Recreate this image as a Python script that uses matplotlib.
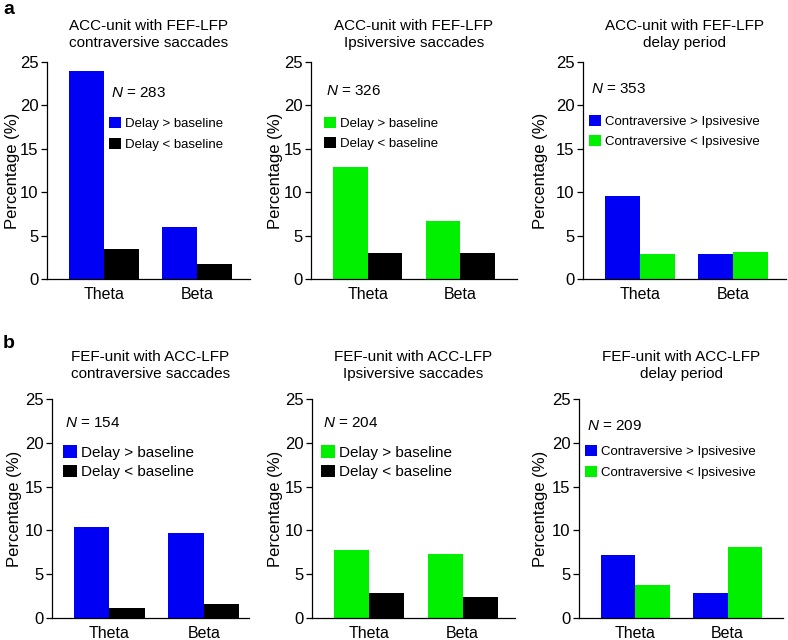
import matplotlib
matplotlib.use('Agg')
import matplotlib.pyplot as plt
import numpy as np

plt.rcParams['font.family'] = ['Liberation Sans', 'DejaVu Sans']
plt.rcParams['mathtext.fontset'] = 'custom'
plt.rcParams['mathtext.it'] = 'Liberation Sans:italic'
plt.rcParams['mathtext.rm'] = 'Liberation Sans'

# ---- data ----
bands = ['Theta', 'Beta']

a1_up = [24.0, 6.0]      # Delay > baseline
a1_down = [3.5, 1.7]     # Delay < baseline
a2_up = [12.9, 6.7]
a2_down = [3.05, 3.05]
a3_contra = [9.6, 2.85]  # Contraversive > Ipsivesive
a3_ipsi = [2.85, 3.15]   # Contraversive < Ipsivesive

b1_up = [10.4, 9.65]
b1_down = [1.15, 1.6]
b2_up = [7.75, 7.3]
b2_down = [2.85, 2.35]
b3_contra = [7.15, 2.8]
b3_ipsi = [3.75, 8.05]

n_values = [283, 326, 353, 154, 204, 209]

titles = ['ACC-unit with FEF-LFP\ncontraversive saccades',
          'ACC-unit with FEF-LFP\nIpsiversive saccades',
          'ACC-unit with FEF-LFP\ndelay period',
          'FEF-unit with ACC-LFP\ncontraversive saccades',
          'FEF-unit with ACC-LFP\nIpsiversive saccades',
          'FEF-unit with ACC-LFP\ndelay period']

lab_delay = ['Delay > baseline', 'Delay < baseline']
lab_dir = ['Contraversive > Ipsivesive', 'Contraversive < Ipsivesive']

BLUE = '#0000f5'
GREEN = '#00f000'
BLACK = '#000000'

W, H = 788, 640


def add_axes_px(fig, left, top, right, bottom):
    return fig.add_axes([left / W, 1 - bottom / H, (right - left) / W, (bottom - top) / H])


def draw_panel(ax, v1, v2, c1, c2, labels, title, n, xmax, title_pad,
               leg_fs, leg_y, leg_space, n_xy, ylab_off):
    x = np.arange(len(bands))
    w = 0.375
    b1 = ax.bar(x - w / 2, v1, w, color=c1, label=labels[0])
    b2 = ax.bar(x + w / 2, v2, w, color=c2, label=labels[1])

    ax.set_xlim(-0.61, xmax)
    ax.set_ylim(0, 25)
    ax.set_yticks([0, 5, 10, 15, 20, 25])
    ax.set_xticks(x)
    ax.set_xticklabels(bands)
    for s in ['top', 'right']:
        ax.spines[s].set_visible(False)
    for s in ['left', 'bottom']:
        ax.spines[s].set_linewidth(0.9)
    ax.tick_params(axis='y', direction='out', length=4, width=0.9, labelsize=12, pad=2)
    ax.tick_params(axis='x', length=0, labelsize=11.5, pad=6)

    ax.set_ylabel('Percentage (%)', fontsize=12)
    ax.yaxis.set_label_coords(ylab_off, 0.5)
    ax.set_title(title, fontsize=11, pad=title_pad, linespacing=1.3)

    ax.text(n_xy[0], n_xy[1], r'$N$ = %d' % n, transform=ax.transAxes,
            fontsize=11, va='center', ha='left')
    ax.legend(handles=[b1, b2], loc='upper left', bbox_to_anchor=(n_xy[0] - 0.01, leg_y),
              frameon=False, fontsize=leg_fs, handlelength=0.9, handleheight=0.9,
              handletextpad=0.3, labelspacing=leg_space, borderpad=0, borderaxespad=0)


fig = plt.figure(figsize=(7.88, 6.4), dpi=100)

# pixel rectangles (left, top, right, bottom) of each axes
ax_a1 = add_axes_px(fig, 47, 62, 250, 279)
ax_a2 = add_axes_px(fig, 311, 62, 517, 279)
ax_a3 = add_axes_px(fig, 583, 62, 786, 279)
ax_b1 = add_axes_px(fig, 52, 399, 249, 618)
ax_b2 = add_axes_px(fig, 312, 399, 515, 618)
ax_b3 = add_axes_px(fig, 579, 399, 783, 618)

draw_panel(ax_a1, a1_up, a1_down, BLUE, BLACK, lab_delay, titles[0], n_values[0], 1.57, 10.5,
           9.5, 0.745, 0.55, (0.316, 0.857), -0.135)
draw_panel(ax_a2, a2_up, a2_down, GREEN, BLACK, lab_delay, titles[1], n_values[1], 1.61, 10.5,
           9.5, 0.745, 0.5, (0.072, 0.868), -0.138)
draw_panel(ax_a3, a3_contra, a3_ipsi, BLUE, GREEN, lab_dir, titles[2], n_values[2], 1.57, 10.5,
           9.5, 0.756, 0.5, (0.04, 0.876), -0.174)
draw_panel(ax_b1, b1_up, b1_down, BLUE, BLACK, lab_delay, titles[3], n_values[3], 1.48, 15,
           11, 0.788, 0.3, (0.065, 0.89), -0.15)
draw_panel(ax_b2, b2_up, b2_down, GREEN, BLACK, lab_delay, titles[4], n_values[4], 1.56, 15,
           11, 0.788, 0.3, (0.055, 0.89), -0.145)
draw_panel(ax_b3, b3_contra, b3_ipsi, BLUE, GREEN, lab_dir, titles[5], n_values[5], 1.6, 15,
           9.5, 0.791, 0.6, (0.04, 0.876), -0.154)

fig.text(3 / W, 1 - 14 / H, 'a', fontsize=14, fontweight='bold', va='baseline')
fig.text(3 / W, 1 - 348 / H, 'b', fontsize=14, fontweight='bold', va='baseline')

fig.savefig('out.png', dpi=100)
